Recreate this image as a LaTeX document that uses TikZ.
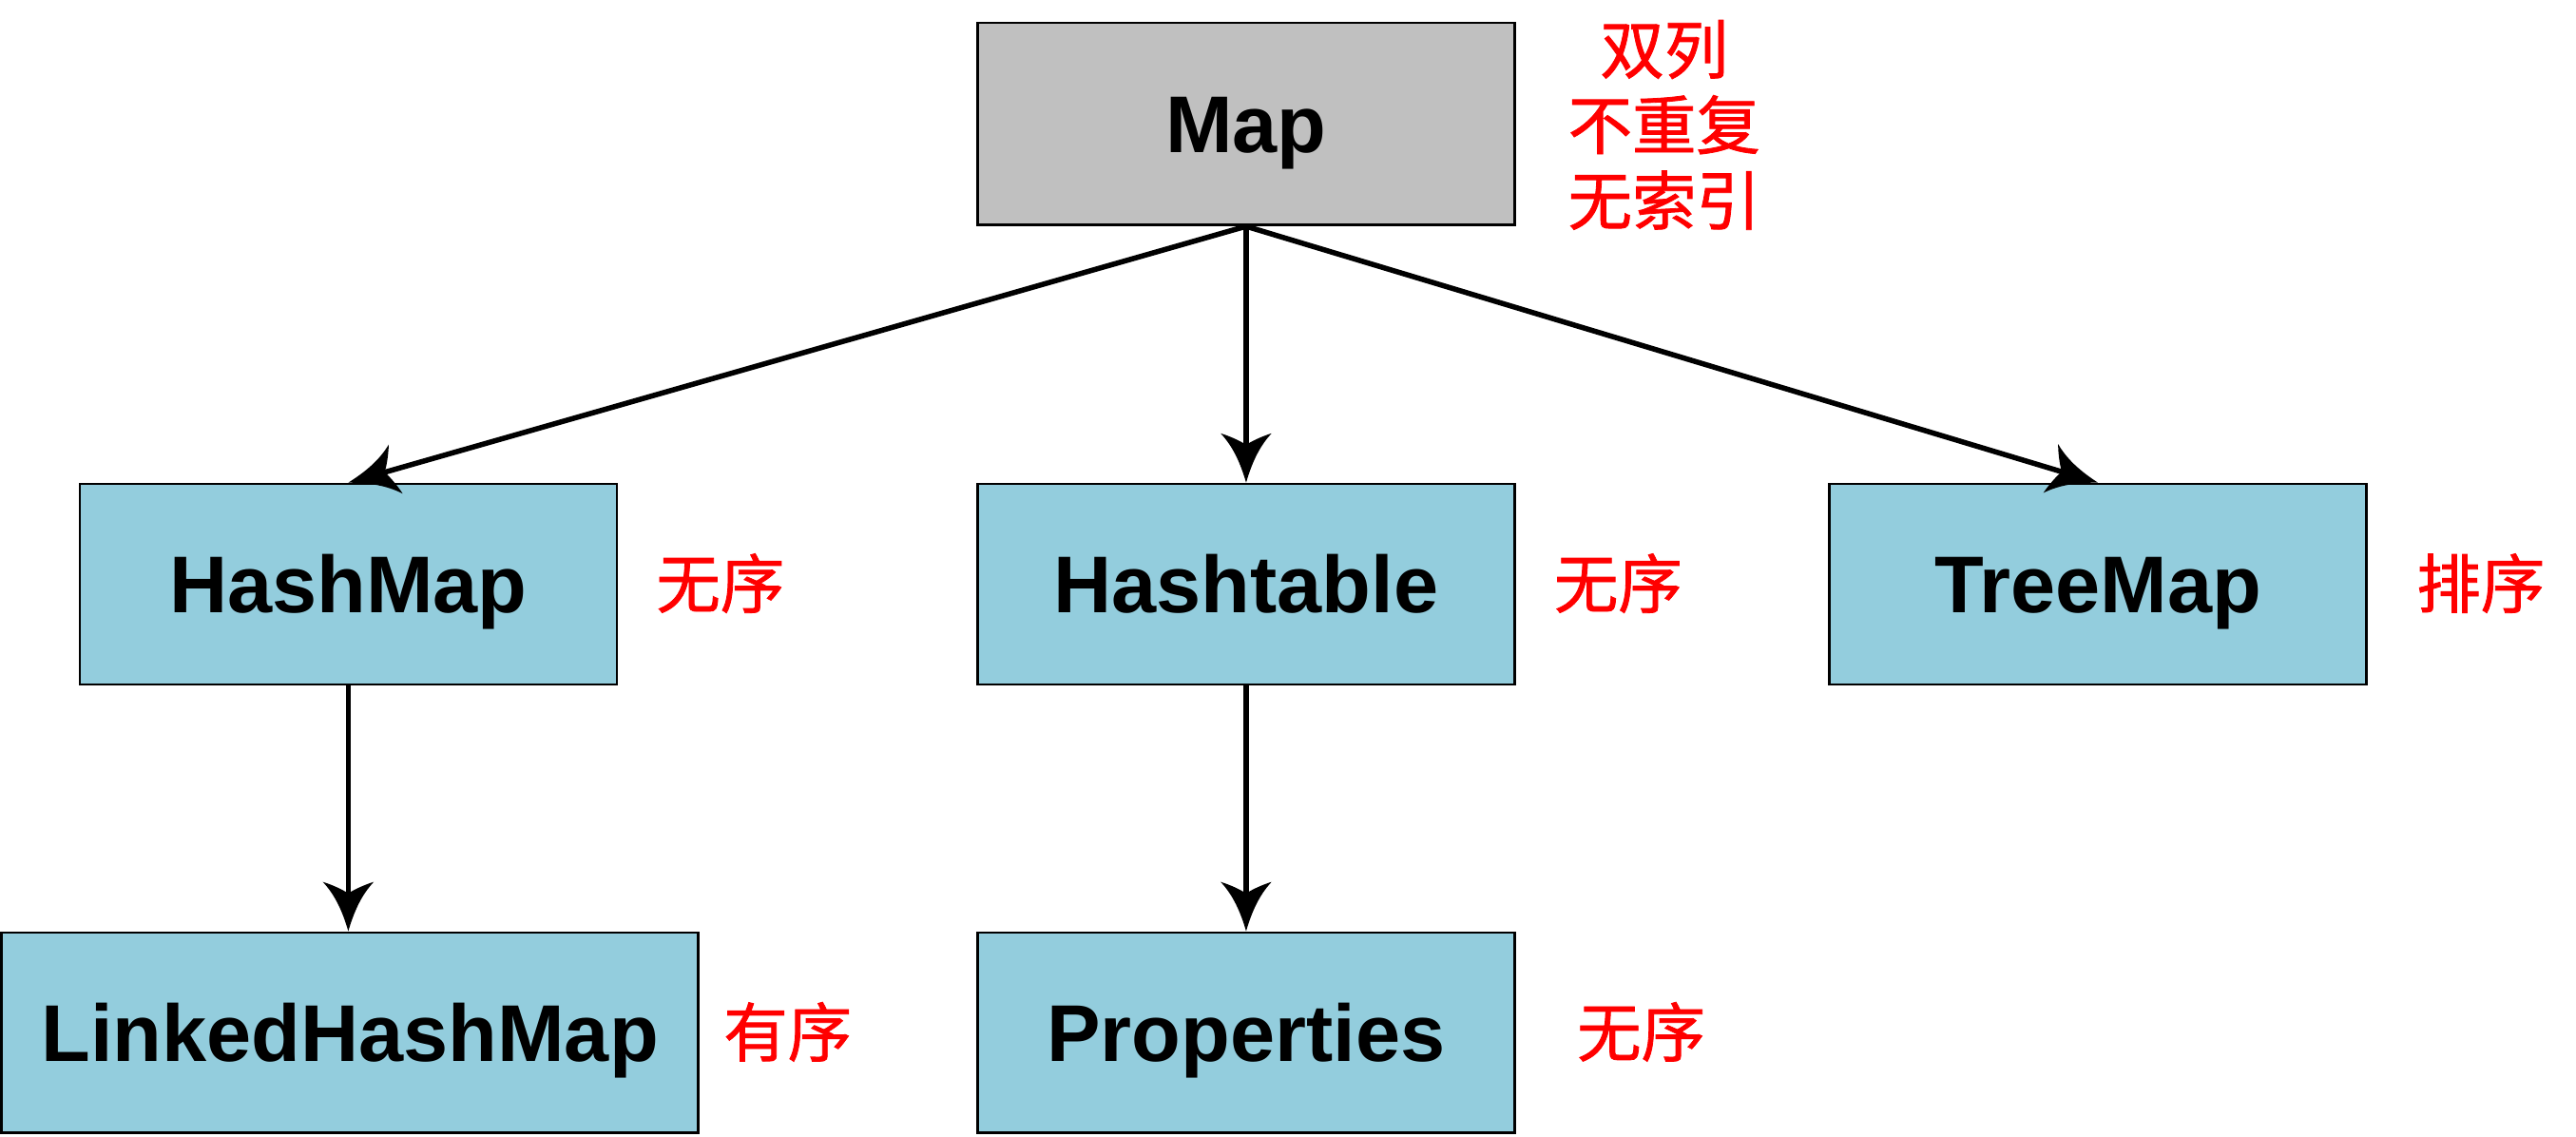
\documentclass[tikz,border=0pt]{standalone}
\usepackage{fontspec}
\setmainfont{Liberation Sans}
\newfontfamily\cjk{Noto Sans CJK SC}[FakeBold=1.2]
\definecolor{boxblue}{RGB}{147,205,221}
\definecolor{boxgray}{RGB}{192,192,192}
\definecolor{lblred}{RGB}{255,0,0}
\pgfdeclarearrow{
  name = CurvyHead,
  setup code = {
    \pgfarrowssettipend{0pt}
    \pgfarrowssetlineend{-21pt}
    \pgfarrowssetbackend{-30pt}
    \pgfarrowshullpoint{0pt}{0pt}
    \pgfarrowshullpoint{-30pt}{15.5pt}
    \pgfarrowshullpoint{-30pt}{-15.5pt}
  },
  drawing code = {
    \pgfpathmoveto{\pgfqpoint{0pt}{0pt}}
    \pgfpathcurveto{\pgfqpoint{-12pt}{3.5pt}}{\pgfqpoint{-22pt}{8pt}}{\pgfqpoint{-30pt}{15.5pt}}
    \pgfpathcurveto{\pgfqpoint{-28pt}{9pt}}{\pgfqpoint{-25pt}{3pt}}{\pgfqpoint{-23pt}{0pt}}
    \pgfpathcurveto{\pgfqpoint{-25pt}{-3pt}}{\pgfqpoint{-28pt}{-9pt}}{\pgfqpoint{-30pt}{-15.5pt}}
    \pgfpathcurveto{\pgfqpoint{-22pt}{-8pt}}{\pgfqpoint{-12pt}{-3.5pt}}{\pgfqpoint{0pt}{0pt}}
    \pgfpathclose
    \pgfusepathqfill
  }
}
\tikzset{
  cls/.style={draw=black, line width=1.5pt, fill=boxblue, rectangle, inner sep=0pt,
    minimum width=327pt, minimum height=122pt, text height=35pt, text depth=0pt,
    font=\fontsize{49}{58}\selectfont\bfseries},
  note/.style={text=lblred, inner sep=0pt, align=center,
    font=\cjk\fontsize{39}{46}\selectfont},
  conn/.style={draw=black, line width=3.2pt, -CurvyHead}
}
\begin{document}
\begin{tikzpicture}[x=1pt,y=-1pt]
\useasboundingbox (0,0) rectangle (1568,692);
\node[cls, fill=boxgray, minimum height=123pt] (map) at (758.5,75.5) {Map};
\node[cls] (hashmap) at (212,355.5) {HashMap};
\node[cls] (hashtable) at (758.5,355.5) {Hashtable};
\node[cls] (treemap) at (1277,355.5) {TreeMap};
\node[cls, minimum width=424pt] (linked) at (213,628.5) {LinkedHashMap};
\node[cls] (props) at (758.5,628.5) {Properties};
\node[note] (mapnote) at (1013,76) {双列\\不重复\\无索引};
\node[note] (n1) at (438.5,355) {无序};
\node[note] (n2) at (985,355) {无序};
\node[note] (n3) at (1510,355) {排序};
\node[note] (n4) at (479.5,628) {有序};
\node[note] (n5) at (999,628) {无序};
\draw[conn] (map.south) -- (hashmap.north);
\draw[conn] (map.south) -- (hashtable.north);
\draw[conn] (map.south) -- (treemap.north);
\draw[conn] (hashmap.south) -- (hashmap.south |- linked.north);
\draw[conn] (hashtable.south) -- (props.north);
\end{tikzpicture}
\end{document}
